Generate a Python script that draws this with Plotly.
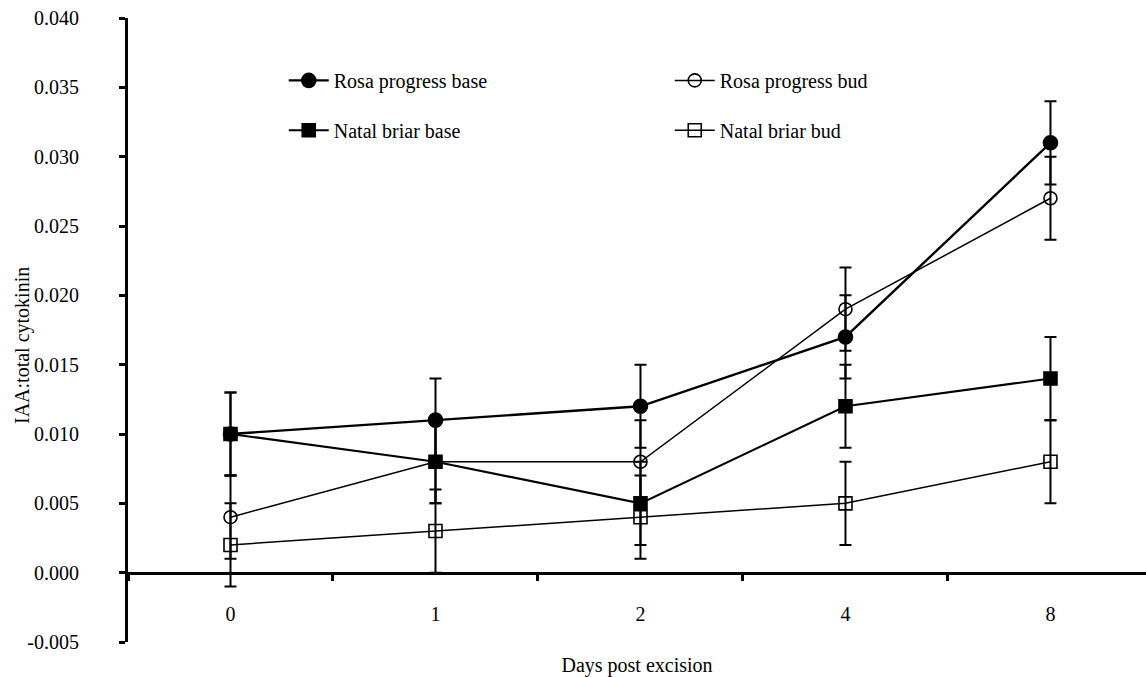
import plotly.graph_objects as go

# Sampling days (categorical axis) and IAA:total cytokinin ratios
days = ["0", "1", "2", "4", "8"]

rosa_base = [0.010, 0.011, 0.012, 0.017, 0.031]
rosa_bud = [0.004, 0.008, 0.008, 0.019, 0.027]
natal_base = [0.010, 0.008, 0.005, 0.012, 0.014]
natal_bud = [0.002, 0.003, 0.004, 0.005, 0.008]

rosa_base_err = [0.003, 0.003, 0.003, 0.003, 0.003]
rosa_bud_err = [0.003, 0.003, 0.003, 0.003, 0.003]
natal_base_err = [0.003, 0.003, 0.003, 0.003, 0.003]
natal_bud_err = [0.003, 0.003, 0.003, 0.003, 0.003]

y_tick_vals = [-0.005, 0.000, 0.005, 0.010, 0.015, 0.020, 0.025, 0.030, 0.035, 0.040]
y_tick_text = ["-0.005", "0.000", "0.005", "0.010", "0.015", "0.020",
               "0.025", "0.030", "0.035", "0.040"]

FONT = "Liberation Serif"
TEXT = dict(family=FONT, size=20, color="black")

series = [
    ("Rosa progress base", rosa_base, rosa_base_err, "circle", 14, 2.4, "legend"),
    ("Rosa progress bud", rosa_bud, rosa_bud_err, "circle-open", 13, 1.5, "legend"),
    ("Natal briar base", natal_base, natal_base_err, "square", 13, 2.1, "legend2"),
    ("Natal briar bud", natal_bud, natal_bud_err, "square-open", 13, 1.5, "legend2"),
]

fig = go.Figure()
for name, vals, err, sym, size, lw, leg in series:
    fig.add_trace(go.Scatter(
        x=days, y=vals, name=name, mode="lines+markers",
        line=dict(color="black", width=lw),
        marker=dict(symbol=sym, size=size, color="black",
                    line=dict(color="black", width=1.6)),
        error_y=dict(type="data", array=err, visible=True,
                     color="black", thickness=2, width=6),
        legend=leg,
    ))

legend_common = dict(
    orientation="h", entrywidth=331, xanchor="left", yanchor="middle",
    bgcolor="rgba(0,0,0,0)", font=TEXT,
    itemwidth=40, traceorder="normal",
)

fig.update_layout(
    width=1146, height=677,
    margin=dict(l=128, r=0, t=18, b=35),
    paper_bgcolor="white", plot_bgcolor="white",
    font=TEXT,
    showlegend=True,
    legend=dict(x=0.153, y=0.90, **legend_common),
    legend2=dict(x=0.153, y=0.82, **legend_common),
    xaxis=dict(
        type="category", categoryorder="array", categoryarray=days,
        range=[-0.5, 4.466],
        anchor="free", position=0.005 / 0.045,
        showline=True, linecolor="black", linewidth=3,
        ticks="outside", tickson="boundaries", ticklen=6, tickwidth=3,
        tickcolor="black", ticklabelstandoff=22, tickfont=TEXT,
        showgrid=False, zeroline=False,
        title=dict(text="Days post excision", standoff=38, font=TEXT),
    ),
    yaxis=dict(
        range=[-0.005, 0.040],
        tickvals=y_tick_vals, ticktext=y_tick_text, tickfont=TEXT,
        showline=True, linecolor="black", linewidth=3,
        ticks="outside", ticklen=6, tickwidth=3, tickcolor="black",
        ticklabelstandoff=36,
        showgrid=False, zeroline=False,
    ),
    annotations=[dict(
        text="IAA:total cytokinin", textangle=-90, font=TEXT,
        xref="paper", yref="paper", x=(22 - 128) / 1018, y=(642 - 346) / 624,
        xanchor="center", yanchor="middle", showarrow=False,
    )],
)

fig.write_html("out.html")
